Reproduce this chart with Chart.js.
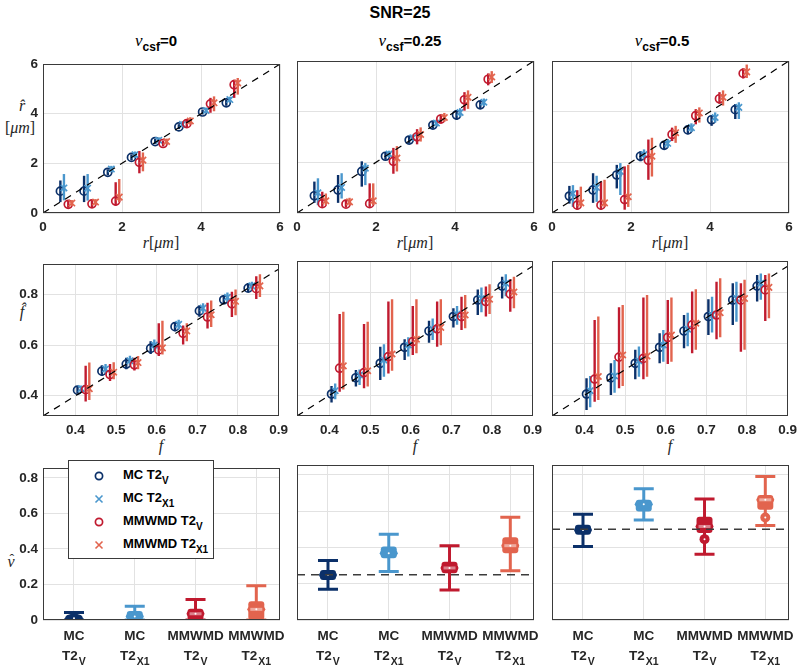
<!DOCTYPE html>
<html><head><meta charset="utf-8">
<script src="https://cdn.jsdelivr.net/npm/chart.js@4.4.1/dist/chart.umd.min.js"></script>
<style>
body{margin:0;width:800px;height:668px;background:#fff;position:relative;overflow:hidden;font-family:"Liberation Sans",Arial,sans-serif}
.t{position:absolute;font-weight:bold;color:#000;white-space:nowrap;transform:translate(-50%,-50%)}
.m{position:absolute;font-family:"Liberation Serif","DejaVu Serif",serif;font-style:italic;font-size:16px;color:#262626;white-space:nowrap;transform:translate(-50%,-50%)}
.m .u{font-style:normal}
.hat{position:relative;display:inline-block}
.hat .h{position:absolute;left:2px;top:-1px;font-style:normal;font-size:14px}
.nu{font-family:"Liberation Serif",serif;font-style:italic;font-weight:normal;font-size:17px}
.sb{font-size:12px;position:relative;top:5px}
#leg{position:absolute;left:68px;top:460px;width:144px;height:97px;background:#fff;border:1px solid #3a3a3a;z-index:5}
.le{position:absolute;left:0;height:20px;width:144px;font-weight:bold;font-size:13px;color:#000}
.le .mk{position:absolute;left:24px;top:4px;width:12px;height:12px}
.le .tx{position:absolute;left:54px;top:1px;white-space:nowrap}
.le sub{font-size:10px;position:relative;top:1px}
</style></head><body>

<div class="t" style="left:400px;top:13px;font-size:16px">SNR=25</div>
<div class="t" style="left:156px;top:41px;font-size:15px"><span class="nu">ν</span><span class="sb">csf</span>=0</div>
<div class="t" style="left:410px;top:41px;font-size:15px"><span class="nu">ν</span><span class="sb">csf</span>=0.25</div>
<div class="t" style="left:662px;top:41px;font-size:15px"><span class="nu">ν</span><span class="sb">csf</span>=0.5</div>

<div class="m" style="left:22px;top:106px">r̂</div>
<div class="m" style="left:20px;top:128px"><span class="u">[</span>μm<span class="u">]</span></div>
<div class="m" style="left:22px;top:312px">f̂</div>
<div class="m" style="left:11px;top:562px"><span class="hat">ν<span class="h">ˆ</span></span></div>

<div class="m" style="left:161px;top:243px">r<span class="u">[</span>μm<span class="u">]</span></div>
<div class="m" style="left:415px;top:243px">r<span class="u">[</span>μm<span class="u">]</span></div>
<div class="m" style="left:670px;top:243px">r<span class="u">[</span>μm<span class="u">]</span></div>
<div class="m" style="left:161px;top:446px">f</div>
<div class="m" style="left:415px;top:446px">f</div>
<div class="m" style="left:670px;top:446px">f</div>

<div id="leg"></div>

<script>
// ---------------- DATA ----------------
const methodNames = ['MC T2_V', 'MC T2_X1', 'MMWMD T2_V', 'MMWMD T2_X1'];
const nuCsf = [0, 0.25, 0.5];
const rTrue = [0.44, 1.04, 1.64, 2.24, 2.84, 3.44, 4.04, 4.64];
const fTrue = [0.405, 0.465, 0.525, 0.585, 0.645, 0.705, 0.765, 0.825];

// r-hat estimates: rows = methods (MC T2V, MC T2X1, MMWMD T2V, MMWMD T2X1)
const rMeanNu0 = [
  [0.88, 0.88, 1.64, 2.24, 2.88, 3.47, 4.07, 4.44],
  [1.01, 1.00, 1.77, 2.35, 2.93, 3.57, 4.13, 4.57],
  [0.35, 0.37, 0.48, 2.04, 2.80, 3.60, 4.40, 5.17],
  [0.40, 0.44, 0.64, 2.13, 2.88, 3.71, 4.44, 5.24]];
const rLoNu0 = [
  [0.44, 0.44, 1.52, 2.12, 2.78, 3.38, 3.97, 4.32],
  [0.51, 0.50, 1.64, 2.22, 2.82, 3.45, 4.02, 4.45],
  [0.21, 0.24, 0.30, 1.60, 2.68, 3.45, 4.04, 4.64],
  [0.28, 0.32, 0.44, 1.68, 2.76, 3.56, 4.10, 4.77]];
const rHiNu0 = [
  [1.31, 1.50, 1.76, 2.36, 2.98, 3.58, 4.17, 4.56],
  [1.57, 1.57, 1.90, 2.48, 3.05, 3.70, 4.25, 4.69],
  [0.51, 0.51, 1.24, 2.50, 2.92, 3.75, 4.64, 5.37],
  [0.52, 0.56, 1.37, 2.44, 3.00, 3.86, 4.70, 5.44]];

const rMeanNu025 = [
  [0.68, 0.91, 1.64, 2.24, 2.88, 3.47, 3.87, 4.27],
  [0.80, 1.01, 1.77, 2.33, 2.97, 3.55, 3.97, 4.37],
  [0.37, 0.35, 0.37, 2.04, 3.01, 3.71, 4.47, 5.28],
  [0.48, 0.44, 0.48, 2.17, 3.10, 3.77, 4.57, 5.37]];
const rLoNu025 = [
  [0.40, 0.40, 1.04, 2.10, 2.75, 3.33, 3.67, 4.12],
  [0.31, 0.57, 1.10, 2.20, 2.84, 3.42, 3.80, 4.22],
  [0.24, 0.22, 0.24, 1.55, 2.71, 3.53, 4.04, 5.04],
  [0.31, 0.30, 0.31, 1.64, 2.82, 3.60, 4.11, 5.13]];
const rHiNu025 = [
  [1.24, 1.50, 2.04, 2.37, 3.00, 3.60, 4.04, 4.42],
  [1.37, 1.57, 1.97, 2.46, 3.10, 3.68, 4.14, 4.52],
  [0.84, 0.52, 1.17, 2.57, 3.31, 3.89, 4.77, 5.51],
  [0.77, 0.60, 1.17, 2.64, 3.38, 3.95, 4.84, 5.60]];

const rMeanNu05 = [
  [0.67, 0.91, 1.50, 2.24, 2.67, 3.28, 3.68, 4.08],
  [0.77, 1.01, 1.64, 2.31, 2.75, 3.37, 3.77, 4.17],
  [0.31, 0.31, 0.53, 2.08, 3.10, 3.84, 4.51, 5.51],
  [0.40, 0.40, 0.64, 2.24, 3.17, 3.95, 4.57, 5.57]];
const rLoNu05 = [
  [0.37, 0.40, 0.97, 2.04, 2.51, 3.11, 3.44, 3.71],
  [0.24, 0.44, 0.71, 2.11, 2.58, 3.20, 3.57, 3.71],
  [0.13, 0.13, 0.13, 1.31, 2.84, 3.50, 4.31, 5.31],
  [0.24, 0.24, 0.24, 1.44, 2.77, 3.57, 4.24, 5.33]];
const rHiNu05 = [
  [1.07, 1.57, 1.90, 2.44, 2.84, 3.44, 3.84, 4.30],
  [1.10, 1.47, 1.97, 2.51, 2.92, 3.54, 3.97, 4.37],
  [0.90, 1.24, 1.84, 2.90, 3.37, 4.10, 4.77, 5.71],
  [1.04, 1.31, 1.90, 2.97, 3.44, 4.17, 4.84, 5.86]];

// f-hat estimates
const fMeanNu0 = [
  [0.422, 0.497, 0.525, 0.587, 0.673, 0.735, 0.779, 0.825],
  [0.428, 0.506, 0.538, 0.600, 0.682, 0.746, 0.789, 0.834],
  [0.424, 0.484, 0.522, 0.581, 0.647, 0.711, 0.763, 0.823],
  [0.428, 0.493, 0.531, 0.589, 0.656, 0.720, 0.773, 0.834]];
const fLoNu0 = [
  [0.410, 0.478, 0.505, 0.565, 0.655, 0.712, 0.762, 0.810],
  [0.415, 0.488, 0.518, 0.578, 0.662, 0.725, 0.770, 0.817],
  [0.377, 0.458, 0.500, 0.557, 0.602, 0.666, 0.711, 0.782],
  [0.383, 0.465, 0.505, 0.563, 0.615, 0.672, 0.718, 0.790]];
const fHiNu0 = [
  [0.435, 0.520, 0.550, 0.615, 0.690, 0.757, 0.797, 0.845],
  [0.440, 0.525, 0.558, 0.622, 0.700, 0.765, 0.808, 0.850],
  [0.518, 0.525, 0.550, 0.686, 0.677, 0.767, 0.811, 0.872],
  [0.531, 0.532, 0.557, 0.696, 0.686, 0.776, 0.820, 0.880]];

const fMeanNu025 = [
  [0.405, 0.468, 0.524, 0.586, 0.649, 0.705, 0.769, 0.823],
  [0.418, 0.479, 0.537, 0.595, 0.656, 0.714, 0.775, 0.834],
  [0.505, 0.488, 0.550, 0.608, 0.657, 0.705, 0.763, 0.792],
  [0.514, 0.495, 0.560, 0.617, 0.663, 0.711, 0.772, 0.800]];
const fLoNu025 = [
  [0.372, 0.434, 0.459, 0.537, 0.604, 0.663, 0.711, 0.775],
  [0.385, 0.440, 0.472, 0.550, 0.614, 0.673, 0.722, 0.784],
  [0.414, 0.427, 0.485, 0.556, 0.588, 0.653, 0.705, 0.724],
  [0.423, 0.434, 0.495, 0.563, 0.594, 0.660, 0.715, 0.737]];
const fHiNu025 = [
  [0.436, 0.498, 0.588, 0.617, 0.689, 0.737, 0.810, 0.859],
  [0.446, 0.500, 0.598, 0.625, 0.697, 0.746, 0.817, 0.869],
  [0.715, 0.676, 0.763, 0.746, 0.763, 0.782, 0.821, 0.849],
  [0.724, 0.685, 0.772, 0.772, 0.772, 0.788, 0.830, 0.859]];

const fMeanNu05 = [
  [0.405, 0.468, 0.524, 0.586, 0.649, 0.705, 0.769, 0.823],
  [0.418, 0.475, 0.534, 0.595, 0.656, 0.711, 0.775, 0.834],
  [0.463, 0.548, 0.543, 0.624, 0.673, 0.711, 0.769, 0.808],
  [0.473, 0.556, 0.552, 0.633, 0.679, 0.720, 0.775, 0.818]];
const fLoNu05 = [
  [0.343, 0.401, 0.462, 0.524, 0.582, 0.634, 0.672, 0.763],
  [0.354, 0.410, 0.472, 0.530, 0.590, 0.643, 0.685, 0.770],
  [0.375, 0.427, 0.462, 0.521, 0.563, 0.617, 0.569, 0.688],
  [0.382, 0.436, 0.472, 0.530, 0.576, 0.625, 0.576, 0.698]];
const fHiNu05 = [
  [0.466, 0.524, 0.576, 0.640, 0.711, 0.772, 0.834, 0.866],
  [0.475, 0.537, 0.589, 0.653, 0.720, 0.782, 0.840, 0.872],
  [0.692, 0.741, 0.779, 0.769, 0.802, 0.840, 0.834, 0.866],
  [0.705, 0.750, 0.788, 0.779, 0.811, 0.853, 0.847, 0.872]];

// nu-hat box statistics per method: [whiskerLow, q1, median, q3, whiskerHigh]
const nuBoxNu0 = [
  [0.000, 0.000, 0.010, 0.028, 0.042],
  [0.000, 0.000, 0.020, 0.050, 0.077],
  [0.000, 0.000, 0.035, 0.064, 0.116],
  [0.000, 0.000, 0.060, 0.105, 0.193]];
const nuBoxNu025 = [
  [0.169, 0.221, 0.248, 0.276, 0.328],
  [0.267, 0.340, 0.368, 0.405, 0.473],
  [0.166, 0.258, 0.287, 0.322, 0.410],
  [0.272, 0.368, 0.410, 0.457, 0.567]];
const nuBoxNu05 = [
  [0.405, 0.470, 0.497, 0.525, 0.584],
  [0.552, 0.598, 0.639, 0.663, 0.724],
  [0.363, 0.480, 0.516, 0.570, 0.667],
  [0.521, 0.608, 0.663, 0.690, 0.792]];
const nuOutlierNu0 = [null, null, null, null];
const nuOutlierNu025 = [null, null, null, null];
const nuOutlierNu05 = [null, null, 0.446, 0.565];

const rTicks = [0, 2, 4, 6];
const fTicks = [0.4, 0.5, 0.6, 0.7, 0.8, 0.9];
const fYTicks = [0.4, 0.6, 0.8];
const nuTicks = [0, 0.2, 0.4, 0.6, 0.8];
const boxCats = [1, 2, 3, 4];
const boxCatTop = ['MC', 'MC', 'MMWMD', 'MMWMD'];
const boxCatSub = ['V', 'X1', 'V', 'X1'];

// ---------------- STYLE ----------------
const colors = ['#0b3069', '#4a97cd', '#c01a2f', '#e2644e'];
const isCross = [false, true, false, true];
const rJitter = [0, 0.09, 0.2, 0.29];
const fJitter = [0, 0.009, 0.02, 0.029];
const G = {lefts: [43, 297, 552], w: 237, padL: 40, padR: 14, padT: 10};
const rowGeo = [{top: 61, h: 152, padB: 24}, {top: 261, h: 155, padB: 24}, {top: 465, h: 155, padB: 52}];

Chart.defaults.font.family = '"Liberation Sans", Arial, sans-serif';
Chart.defaults.font.size = 13.5;
Chart.defaults.font.weight = 'bold';
Chart.defaults.color = '#262626';
Chart.defaults.animation = false;

// ---------------- PLUGINS ----------------
const framePlugin = {
  id: 'frame',
  afterDraw(c) {
    const a = c.chartArea, x = c.ctx;
    x.save(); x.strokeStyle = '#3a3a3a'; x.lineWidth = 1;
    x.strokeRect(Math.round(a.left) + 0.5, Math.round(a.top) + 0.5, Math.round(a.right - a.left) - 1, Math.round(a.bottom - a.top) - 1);
    x.restore();
  }
};
const errPlugin = {
  id: 'errbars',
  beforeDatasetDraw(c, args) {
    const ds = c.data.datasets[args.index];
    if (!ds.errLo) return;
    const ctx = c.ctx, xs = c.scales.x, ys = c.scales.y, a = c.chartArea;
    ctx.save();
    ctx.beginPath(); ctx.rect(a.left, a.top, a.right - a.left, a.bottom - a.top); ctx.clip();
    ctx.strokeStyle = ds.borderColor; ctx.lineWidth = 2.4; ctx.lineCap = 'butt';
    ds.data.forEach((p, i) => {
      const px = xs.getPixelForValue(p.x);
      ctx.beginPath();
      ctx.moveTo(px, ys.getPixelForValue(ds.errLo[i]));
      ctx.lineTo(px, ys.getPixelForValue(ds.errHi[i]));
      ctx.stroke();
    });
    ctx.restore();
  }
};
function lighten(hex, t) {
  const n = parseInt(hex.slice(1), 16);
  const r = (n >> 16) & 255, g = (n >> 8) & 255, b = n & 255;
  const f = v => Math.round(v + (255 - v) * t);
  return `rgb(${f(r)},${f(g)},${f(b)})`;
}
const boxPlugin = {
  id: 'boxes',
  beforeDatasetsDraw(c, args, opts) {
    if (!opts.stats) return;
    const ctx = c.ctx, xs = c.scales.x, ys = c.scales.y, a = c.chartArea;
    ctx.save();
    ctx.beginPath(); ctx.rect(a.left, a.top, a.right - a.left, a.bottom - a.top); ctx.clip();
    opts.stats.forEach((s, i) => {
      const cx = xs.getPixelForValue(boxCats[i]);
      const col = colors[i];
      const [lo, q1, md, q3, hi] = s.map(v => ys.getPixelForValue(v));
      ctx.strokeStyle = col; ctx.fillStyle = col; ctx.lineWidth = 3;
      ctx.beginPath(); ctx.moveTo(cx, lo); ctx.lineTo(cx, hi); ctx.stroke();
      ctx.beginPath(); ctx.moveTo(cx - 10, hi); ctx.lineTo(cx + 10, hi);
      ctx.moveTo(cx - 10, lo); ctx.lineTo(cx + 10, lo); ctx.stroke();
      const bh = Math.max(q1 - q3, 4);
      ctx.beginPath();
      if (ctx.roundRect) ctx.roundRect(cx - 8, q3, 16, bh, 3); else ctx.rect(cx - 8, q3, 16, bh);
      ctx.fill();
      ctx.beginPath(); ctx.ellipse(cx, md, 9, 4.5, 0, 0, Math.PI * 2); ctx.fill();
      if (i >= 2 && bh > 8) {
        ctx.fillStyle = lighten(col, 0.45);
        ctx.fillRect(cx - 6, md - 1.5, 12, 3);
        ctx.fillStyle = col;
      }
      const out = opts.outliers[i];
      if (out !== null && out !== undefined) {
        ctx.beginPath(); ctx.arc(cx, ys.getPixelForValue(out), 5, 0, Math.PI * 2); ctx.fill();
        ctx.fillStyle = '#fff';
        ctx.beginPath(); ctx.arc(cx, ys.getPixelForValue(out), 1, 0, Math.PI * 2); ctx.fill();
      }
      ctx.fillStyle = '#fff';
      ctx.beginPath(); ctx.arc(cx, md, 1, 0, Math.PI * 2); ctx.fill();
    });
    ctx.restore();
  },
  afterDraw(c, args, opts) {
    if (!opts.stats) return;
    const ctx = c.ctx, xs = c.scales.x, a = c.chartArea;
    ctx.save();
    ctx.fillStyle = '#262626'; ctx.textBaseline = 'middle';
    boxCats.forEach((v, i) => {
      const cx = xs.getPixelForValue(v);
      ctx.font = 'bold 13.5px "Liberation Sans", Arial, sans-serif';
      ctx.textAlign = 'center';
      ctx.fillText(boxCatTop[i], cx, a.bottom + 16);
      const w1 = ctx.measureText('T2').width;
      ctx.font = 'bold 10.5px "Liberation Sans", Arial, sans-serif';
      const w2 = ctx.measureText(boxCatSub[i]).width;
      const x0 = cx - (w1 + w2 + 1) / 2;
      ctx.textAlign = 'left';
      ctx.font = 'bold 13.5px "Liberation Sans", Arial, sans-serif';
      ctx.fillText('T2', x0, a.bottom + 36);
      ctx.font = 'bold 10.5px "Liberation Sans", Arial, sans-serif';
      ctx.fillText(boxCatSub[i], x0 + w1 + 1, a.bottom + 42);
    });
    ctx.restore();
  }
};

// ---------------- BUILD ----------------
function fmt(v) { return String(Number(Number(v).toFixed(2))); }
function mkCanvas(r, k) {
  const g = rowGeo[r];
  const c = document.createElement('canvas');
  const W = G.w + G.padL + G.padR, H = g.h + G.padT + g.padB;
  c.width = W; c.height = H;
  c.style.cssText = `position:absolute;left:${G.lefts[k] - G.padL}px;top:${g.top - G.padT}px;width:${W}px;height:${H}px`;
  document.body.appendChild(c);
  return c;
}
function axis(min, max, ticks, show, isX, padB) {
  return {
    type: 'linear', min, max,
    afterBuildTicks: s => { s.ticks = ticks.map(v => ({value: v})); },
    afterFit: s => { if (isX) s.height = padB; else s.width = G.padL; },
    grid: {color: '#e2e2e2', lineWidth: 1, drawTicks: false},
    border: {display: false},
    ticks: {display: show, padding: isX ? 6 : 5, autoSkip: false, maxRotation: 0, callback: v => fmt(v)}
  };
}
function scatterPanel(r, k, trueVals, jitter, means, los, his, xr, yr, xt, yt) {
  const ds = [{
    type: 'scatter', data: [{x: xr[0], y: xr[0]}, {x: xr[1], y: xr[1]}], showLine: true,
    borderColor: '#000', borderWidth: 1.2, borderDash: [7, 6], pointRadius: 0, order: 0
  }];
  means.forEach((m, j) => {
    ds.push({
      type: 'scatter', label: methodNames[j],
      data: m.map((y, i) => ({x: trueVals[i] + jitter[j], y})),
      errLo: los[j], errHi: his[j],
      borderColor: colors[j], backgroundColor: 'rgba(0,0,0,0)',
      pointStyle: isCross[j] ? 'crossRot' : 'circle',
      pointRadius: isCross[j] ? 4.5 : 4, borderWidth: 1.7, order: 10 - j
    });
  });
  new Chart(mkCanvas(r, k), {
    type: 'scatter', data: {datasets: ds},
    options: {
      responsive: false, devicePixelRatio: 1, animation: false,
      layout: {padding: {top: G.padT, right: G.padR, left: 0, bottom: 0}},
      plugins: {legend: {display: false}, tooltip: {enabled: false}},
      scales: {x: axis(xr[0], xr[1], xt, true, true, rowGeo[r].padB), y: axis(yr[0], yr[1], yt, k === 0, false)}
    },
    plugins: [errPlugin, framePlugin]
  });
}
function boxPanel(k, stats, outliers, nu) {
  const xr = [0.49, 4.39];
  new Chart(mkCanvas(2, k), {
    type: 'scatter',
    data: {datasets: [{
      data: [{x: xr[0], y: nu}, {x: xr[1], y: nu}], showLine: true,
      borderColor: '#3c3c3c', borderWidth: 1.5, borderDash: [8, 6], pointRadius: 0
    }]},
    options: {
      responsive: false, devicePixelRatio: 1, animation: false,
      layout: {padding: {top: G.padT, right: G.padR, left: 0, bottom: 0}},
      plugins: {legend: {display: false}, tooltip: {enabled: false}, boxes: {stats, outliers}},
      scales: {x: axis(xr[0], xr[1], boxCats, false, true, rowGeo[2].padB), y: axis(0, 0.855, nuTicks, k === 0, false)}
    },
    plugins: [boxPlugin, framePlugin]
  });
}

const rRange = [0, 6], fRange = [0.32, 0.9], fYRange = [0.32, 0.92];
scatterPanel(0, 0, rTrue, rJitter, rMeanNu0, rLoNu0, rHiNu0, rRange, rRange, rTicks, rTicks);
scatterPanel(0, 1, rTrue, rJitter, rMeanNu025, rLoNu025, rHiNu025, rRange, rRange, rTicks, rTicks);
scatterPanel(0, 2, rTrue, rJitter, rMeanNu05, rLoNu05, rHiNu05, rRange, rRange, rTicks, rTicks);
scatterPanel(1, 0, fTrue, fJitter, fMeanNu0, fLoNu0, fHiNu0, fRange, fYRange, fTicks, fYTicks);
scatterPanel(1, 1, fTrue, fJitter, fMeanNu025, fLoNu025, fHiNu025, fRange, fYRange, fTicks, fYTicks);
scatterPanel(1, 2, fTrue, fJitter, fMeanNu05, fLoNu05, fHiNu05, fRange, fYRange, fTicks, fYTicks);
boxPanel(0, nuBoxNu0, nuOutlierNu0, nuCsf[0]);
boxPanel(1, nuBoxNu025, nuOutlierNu025, nuCsf[1]);
boxPanel(2, nuBoxNu05, nuOutlierNu05, nuCsf[2]);

// legend
const leg = document.getElementById('leg');
methodNames.forEach((name, j) => {
  const [main, sub] = name.split('_');
  const e = document.createElement('div');
  e.className = 'le'; e.style.top = (5 + j * 23) + 'px';
  const mk = isCross[j]
    ? `<svg class="mk" viewBox="0 0 12 12"><path d="M2.5 2.5L9.5 9.5M9.5 2.5L2.5 9.5" stroke="${colors[j]}" stroke-width="1.6"/></svg>`
    : `<svg class="mk" viewBox="0 0 12 12"><circle cx="6" cy="6" r="3.6" fill="none" stroke="${colors[j]}" stroke-width="1.7"/></svg>`;
  e.innerHTML = mk + `<span class="tx">${main}<sub>${sub}</sub></span>`;
  leg.appendChild(e);
});
</script>
</body></html>
